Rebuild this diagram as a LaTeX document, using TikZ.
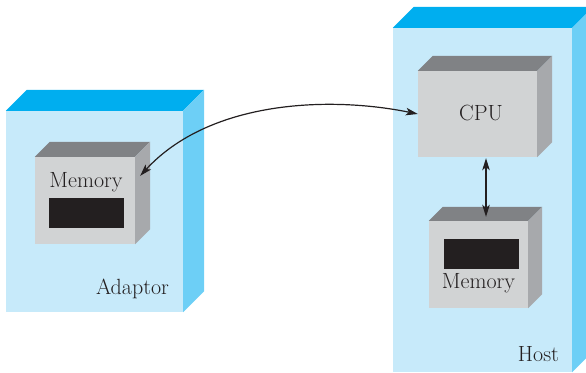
\documentclass[tikz,border=0pt]{standalone}
\usetikzlibrary{arrows.meta, positioning}
\definecolor{ink}{HTML}{231F20}
\definecolor{casefront}{HTML}{C7EAFA}
\definecolor{casetop}{HTML}{00AEEF}
\definecolor{caseside}{HTML}{6DCFF6}
\definecolor{chipfront}{HTML}{D1D3D4}
\definecolor{chiptop}{HTML}{808285}
\definecolor{chipside}{HTML}{A7A9AC}
\begin{document}
\begin{tikzpicture}[
    x=1pt, y=1pt,
    font=\fontsize{22}{25}\selectfont,
    text=ink,
    casebox/.style={fill=casefront, inner sep=0pt},
    chipbox/.style={fill=chipfront, inner sep=0pt},
    slot/.style={fill=ink, minimum width=75pt, minimum height=30pt, inner sep=0pt},
    lbl/.style={anchor=base, inner sep=0pt},
    link/.style={{Stealth[length=12pt, width=7.5pt, inset=3pt]}-{Stealth[length=12pt, width=7.5pt, inset=3pt]}, line width=1.2pt, draw=ink}
]
    \clip (0,0) rectangle (586,372);

    \node[casebox, minimum width=177pt, minimum height=201pt] (adaptor) at (94.5,160.5) {};
    \node[casebox, minimum width=179pt, minimum height=344pt] (host) at (482.5,172) {};
    \node[chipbox, minimum width=100pt, minimum height=87pt] (amem) at (85,171.5) {};
    \node[chipbox, minimum width=119pt, minimum height=86pt] (cpu) at (477.5,258) {};
    \node[chipbox, minimum width=99pt, minimum height=87pt] (hmem) at (478.5,107.5) {};

    % top and side faces
    \foreach \b/\d/\t/\s in {adaptor/21/casetop/caseside, host/21/casetop/caseside,
                             amem/15/chiptop/chipside, cpu/15/chiptop/chipside, hmem/14/chiptop/chipside} {
        \fill[\t] (\b.north west) -- ++(\d,\d) -- ([shift={(\d,\d)}]\b.north east) -- (\b.north east) -- cycle;
        \fill[\s] (\b.north east) -- ++(\d,\d) -- ([shift={(\d,\d)}]\b.south east) -- (\b.south east) -- cycle;
    }

    \node[slot] (aslot) at (86.5,159) {};
    \node[slot] (hslot) at (481.5,118) {};

    \node[lbl] (amemlbl) at (86,184) {Memory};
    \node[lbl] (hmemlbl) at (478.5,83) {Memory};
    \node[lbl] (cpulbl) at (481,251) {CPU};
    \node[lbl] (adaptorlbl) at (132.5,77) {Adaptor};
    \node[lbl] (hostlbl) at (538.5,11) {Host};

    \coordinate (atip) at ([xshift=5pt, yshift=-19pt]amem.north east);
    \draw[link] (atip) .. controls (210,272) and (330,276) .. (cpu.west);
    \draw[link] ([xshift=8.5pt, yshift=-1pt]cpu.south) -- ([xshift=7.5pt, yshift=4pt]hmem.north);
\end{tikzpicture}
\end{document}
